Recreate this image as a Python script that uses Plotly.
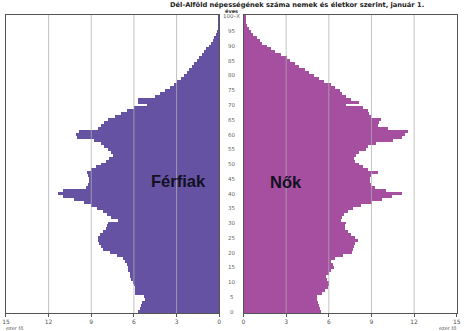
import plotly.graph_objects as go

ages = list(range(0, 101))
age_labels = [str(a) for a in range(0, 100, 5)] + ["100–X"]
age_label_pos = list(range(0, 100, 5)) + [100]

ferfiak = [5.7, 5.6, 5.5, 5.4, 5.25, 5.3, 5.9, 5.95, 5.95, 6.0,
           6.05, 6.2, 6.25, 6.3, 6.4, 6.45, 6.5, 6.6, 6.8, 7.2,
           7.7, 8.2, 8.35, 8.45, 8.5, 8.55, 8.4, 8.2, 8.0, 7.9,
           7.8, 7.1, 7.6, 7.9, 8.2, 8.6, 9.0, 9.5, 10.2, 11.0,
           11.35, 11.0, 9.4, 9.2, 9.15, 9.15, 9.2, 9.3, 9.0, 8.7,
           8.3, 8.0, 7.75, 7.5, 7.6, 7.8, 8.1, 8.3, 8.8, 10.0,
           10.1, 9.9, 8.5, 8.3, 8.1, 7.8, 7.3, 6.9, 6.5, 6.0,
           5.1, 5.7, 5.75, 4.5, 4.2, 3.8, 3.5, 3.2, 3.0, 2.7,
           2.45, 2.3, 2.1, 1.9, 1.75, 1.6, 1.4, 1.2, 1.05, 0.9,
           0.7, 0.55, 0.45, 0.35, 0.25, 0.18, 0.12, 0.08, 0.05, 0.03,
           0.05]

nok = [5.4, 5.35, 5.25, 5.2, 5.1, 5.15, 5.5, 5.7, 5.9, 5.95,
       5.95, 5.85, 5.8, 5.95, 6.1, 6.3, 6.25, 6.15, 6.4, 6.95,
       7.6, 7.7, 7.75, 7.8, 8.0, 7.8, 7.5, 7.3, 7.1, 7.1,
       7.2, 6.85, 6.9, 7.0, 7.3, 7.65, 8.2, 9.0, 9.7, 10.4,
       11.1, 10.0, 9.2, 8.9, 8.85, 8.85, 8.95, 9.4, 8.7, 8.35,
       8.1, 7.8, 7.75, 7.9, 8.1, 8.6, 8.7, 9.3, 10.5, 11.1,
       11.35, 11.5, 10.1, 9.4, 9.5, 9.65, 8.95, 8.8, 8.7, 8.4,
       7.2, 8.1, 7.5, 7.2, 6.9, 6.75, 6.4, 6.15, 5.6, 5.3,
       4.9, 4.6, 4.3, 3.9, 3.6, 3.25, 3.0, 2.6, 2.2, 1.9,
       1.6, 1.3, 1.1, 0.9, 0.65, 0.5, 0.35, 0.22, 0.15, 0.1,
       0.12]

x_ticks = [0, 3, 6, 9, 12, 15]
grid_vals = [3, 6, 9, 12]

W, H = 465, 331
male_color = "#6652A2"
female_color = "#A64EA0"
frame_color = "#555555"

fig = go.Figure()
fig.add_trace(go.Bar(y=ages, x=ferfiak, orientation="h", width=1,
                     marker=dict(color=male_color, line=dict(width=0)),
                     xaxis="x", yaxis="y", showlegend=False))
fig.add_trace(go.Bar(y=ages, x=nok, orientation="h", width=1,
                     marker=dict(color=female_color, line=dict(width=0)),
                     xaxis="x2", yaxis="y2", showlegend=False))

y_dom = [1 - 313 / H, 1 - 15 / H]
axis_common = dict(showgrid=False, zeroline=False, showline=True, mirror=True,
                   linecolor=frame_color, linewidth=1,
                   ticks="outside", ticklen=3, tickcolor=frame_color,
                   tickvals=x_ticks, ticktext=[str(v) for v in x_ticks],
                   tickfont=dict(size=6, color="#555555", family="DejaVu Sans"))
fig.update_layout(
    width=W, height=H,
    margin=dict(l=0, r=0, t=0, b=0),
    paper_bgcolor="white", plot_bgcolor="white",
    bargap=0,
    xaxis=dict(domain=[2 / W, 219 / W], range=[15, 0], anchor="y", **axis_common),
    xaxis2=dict(domain=[243.7 / W, 460.7 / W], range=[0, 15], anchor="y2", **axis_common),
    yaxis=dict(domain=y_dom, range=[-0.5, 100.5], showticklabels=False, ticks="",
               showgrid=False, zeroline=False, showline=True, mirror=True,
               linecolor=frame_color, linewidth=1, anchor="x"),
    yaxis2=dict(domain=y_dom, range=[-0.5, 100.5], showticklabels=False, ticks="",
                showgrid=False, zeroline=False, showline=True, mirror=True,
                linecolor=frame_color, linewidth=1, anchor="x2"),
)

shapes = []
for g in grid_vals:
    for xr in ("x", "x2"):
        shapes.append(dict(type="line", xref=xr, yref="paper", x0=g, x1=g,
                           y0=y_dom[0], y1=y_dom[1], layer="above",
                           line=dict(color="rgba(175,175,175,0.75)", width=1)))
fig.update_layout(shapes=shapes)

ann = []
for lab, pos in zip(age_labels, age_label_pos):
    ann.append(dict(x=231.5 / W, xref="paper", y=pos, yref="y", text=lab,
                    showarrow=False, xanchor="center", yanchor="middle",
                    font=dict(size=5.5, color="#666666", family="DejaVu Sans")))
ann.append(dict(x=231.5 / W, xref="paper", y=1 - 11.5 / H, yref="paper", text="<b>éves</b>",
                showarrow=False, xanchor="center", yanchor="middle",
                font=dict(size=5, color="#333333", family="DejaVu Sans")))
ann.append(dict(x=298 / W, xref="paper", y=1 - 4.5 / H, yref="paper",
                text="<b>Dél-Alföld népességének száma nemek és életkor szerint, január 1.</b>",
                showarrow=False, xanchor="center", yanchor="middle",
                font=dict(size=6.7, color="#222222", family="DejaVu Sans")))
ann.append(dict(x=178 / W, xref="paper", y=1 - 181 / H, yref="paper", text="<b>Férfiak</b>",
                showarrow=False, xanchor="center", yanchor="middle",
                font=dict(size=16.5, color="#111122", family="Liberation Sans")))
ann.append(dict(x=287 / W, xref="paper", y=1 - 182 / H, yref="paper", text="<b>Nők</b>",
                showarrow=False, xanchor="center", yanchor="middle",
                font=dict(size=16.5, color="#111122", family="Liberation Sans")))
ann.append(dict(x=0, xref="paper", y=1 - 327.5 / H, yref="paper", text="ezer fő",
                showarrow=False, xanchor="left", yanchor="middle",
                font=dict(size=5, color="#555555", family="DejaVu Sans")))
ann.append(dict(x=462 / W, xref="paper", y=1 - 327.5 / H, yref="paper", text="ezer fő",
                showarrow=False, xanchor="right", yanchor="middle",
                font=dict(size=5, color="#555555", family="DejaVu Sans")))
fig.update_layout(annotations=ann)

fig.write_html("out.html")
